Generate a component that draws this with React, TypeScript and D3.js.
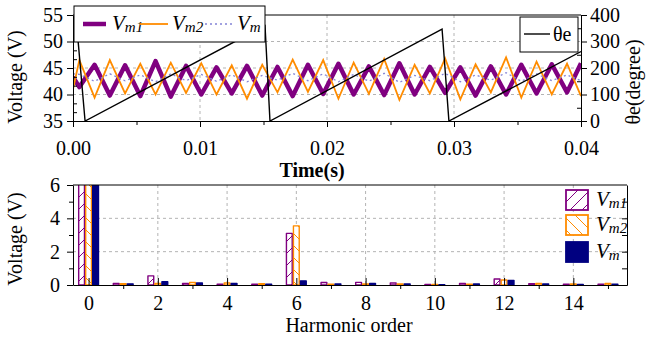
import { useEffect, useRef } from 'react'
import * as d3 from 'd3'

// ---- top panel: voltages and rotor angle vs time ----
const vTimes = [0, 0.0005, 0.0017, 0.0029, 0.0041, 0.0053, 0.0065, 0.0077, 0.0089, 0.0101, 0.0113, 0.0125,
  0.0137, 0.0149, 0.0161, 0.0173, 0.0185, 0.0197, 0.0209, 0.0221, 0.0233, 0.0245, 0.0257, 0.0269, 0.0281,
  0.0293, 0.0305, 0.0317, 0.0329, 0.0341, 0.0353, 0.0365, 0.0377, 0.0389, 0.04]
const vm1 = [43.3, 41.4, 45.6, 39.8, 45.5, 39.7, 46.3, 39.6, 45.4, 40.0, 45.1, 40.2, 45.4, 39.8, 45.2, 39.7,
  45.6, 40.1, 45.8, 40.0, 45.3, 39.9, 45.9, 40.0, 45.2, 40.3, 45.1, 39.8, 45.3, 40.0, 45.6, 40.2, 45.7, 40.4, 45.9]
const vm2 = [41.0, 46.5, 39.4, 46.5, 40.2, 45.8, 40.0, 46.0, 40.3, 45.9, 40.0, 45.5, 39.2, 45.6, 40.4, 46.6,
  40.5, 46.5, 39.2, 46.0, 40.1, 46.7, 39.0, 45.6, 40.2, 46.8, 39.1, 45.7, 40.4, 47.0, 39.4, 46.2, 40.0, 45.8, 39.7]
const vm = [43.9, 43.8, 42.5, 43.9, 42.6, 43.7, 42.4, 43.9, 42.6, 43.8, 42.5, 43.7, 42.4, 43.6, 42.7, 44.0,
  42.6, 43.9, 42.4, 43.8, 42.5, 44.0, 42.3, 43.6, 42.6, 44.0, 42.4, 43.7, 42.7, 44.1, 42.5, 43.9, 42.6, 43.7, 42.6]
const thetaTimes = [0, 0.0003, 0.00095, 0.01512, 0.01551, 0.02906, 0.0296, 0.04]
const thetaDeg = [352, 358, 0, 360, 0, 347, 0, 262]

const timeTicks = [0, 0.01, 0.02, 0.03, 0.04]
const timeMinor = [0.005, 0.015, 0.025, 0.035]
const voltTicks = [35, 40, 45, 50, 55]
const voltMinor = [36.667, 38.333, 41.667, 43.333, 46.667, 48.333, 51.667, 53.333]
const degTicks = [0, 100, 200, 300, 400]
const degMinor = [50, 150, 250, 350]

// ---- bottom panel: harmonic spectrum ----
const harmonics = [0, 1, 2, 3, 4, 5, 6, 7, 8, 9, 10, 11, 12, 13, 14, 15]
const hVm1 = [43, 0.1, 0.55, 0.1, 0.05, 0.05, 3.1, 0.15, 0.16, 0.12, 0.03, 0.1, 0.36, 0.08, 0.05, 0.05]
const hVm2 = [43, 0.08, 0.1, 0.15, 0.12, 0.08, 3.55, 0.05, 0.06, 0.06, 0.03, 0.05, 0.3, 0.1, 0.06, 0.1]
const hVm = [43, 0.07, 0.2, 0.12, 0.1, 0.05, 0.25, 0.06, 0.1, 0.06, 0.02, 0.06, 0.28, 0.06, 0.04, 0.05]
const harmTicks = [0, 2, 4, 6, 8, 10, 12, 14]
const harmMinor = [1, 3, 5, 7, 9, 11, 13, 15]
const specTicks = [0, 2, 4, 6]

const PURPLE = '#800080'
const ORANGE = '#ff8c00'
const NAVY = '#000080'
const VMCOL = '#8484d6'
const GRID = '#b4b4b4'
const FONT = "'Liberation Serif', 'Times New Roman', serif"

export default function App() {
  const svgRef = useRef<SVGSVGElement>(null)

  useEffect(() => {
    if (!svgRef.current) return
    const svg = d3.select(svgRef.current)
    svg.selectAll('*').remove()

    const defs = svg.append('defs')
    const hatch = (id: string, color: string, up: boolean) => {
      const s = 12
      const p = defs.append('pattern').attr('id', id)
        .attr('patternUnits', 'userSpaceOnUse').attr('width', s).attr('height', s)
      p.append('rect').attr('width', s).attr('height', s).attr('fill', '#fff')
      const d = up
        ? `M0,${s} L${s},0 M-3,3 L3,-3 M${s - 3},${s + 3} L${s + 3},${s - 3}`
        : `M0,0 L${s},${s} M-3,${s - 3} L3,${s + 3} M${s - 3},-3 L${s + 3},3`
      p.append('path').attr('d', d).attr('stroke', color).attr('stroke-width', 1)
    }
    hatch('hatchVm1', PURPLE, true)
    hatch('hatchVm2', ORANGE, false)

    // ================= top panel =================
    const T = { l: 73, r: 581, t: 15, b: 121 }
    const xT = d3.scaleLinear().domain([0, 0.04]).range([T.l, T.r])
    const yL = d3.scaleLinear().domain([35, 55]).range([T.b, T.t])
    const yR = d3.scaleLinear().domain([0, 400]).range([T.b, T.t])

    defs.append('clipPath').attr('id', 'clipTop')
      .append('rect').attr('x', T.l).attr('y', T.t).attr('width', T.r - T.l).attr('height', T.b - T.t)

    const top = svg.append('g')

    // grid
    top.append('g').selectAll('line').data([40, 45, 50]).join('line')
      .attr('x1', T.l).attr('x2', T.r).attr('y1', d => yL(d)).attr('y2', d => yL(d))
      .attr('stroke', GRID).attr('stroke-dasharray', '3,3')
    top.append('g').selectAll('line').data([0.01, 0.02, 0.03]).join('line')
      .attr('y1', T.t).attr('y2', T.b).attr('x1', d => xT(d)).attr('x2', d => xT(d))
      .attr('stroke', GRID).attr('stroke-dasharray', '3,3')

    const data = top.append('g').attr('clip-path', 'url(#clipTop)')
    const vLine = (vals: number[]) =>
      d3.line<number>().x((_, i) => xT(vTimes[i])).y(d => yL(d))(vals)

    data.append('path').attr('d', vLine(vm1))
      .attr('fill', 'none').attr('stroke', PURPLE).attr('stroke-width', 4.5).attr('stroke-linejoin', 'round')
    data.append('path').attr('d', vLine(vm2))
      .attr('fill', 'none').attr('stroke', ORANGE).attr('stroke-width', 1.8)
    data.append('path').attr('d', vLine(vm))
      .attr('fill', 'none').attr('stroke', VMCOL).attr('stroke-width', 1.3).attr('stroke-dasharray', '2,3')
    data.append('path')
      .attr('d', d3.line<number>().x((_, i) => xT(thetaTimes[i])).y(d => yR(d))(thetaDeg))
      .attr('fill', 'none').attr('stroke', '#000').attr('stroke-width', 1.4)

    // frame
    top.append('line').attr('x1', T.l).attr('x2', T.r).attr('y1', T.t).attr('y2', T.t).attr('stroke', '#000')

    const styleAxis = (g: d3.Selection<SVGGElement, unknown, null, undefined>, size = 20) => {
      g.attr('font-family', null).attr('font-size', null)
      g.selectAll('text').style('font-family', FONT).style('font-size', `${size}px`)
      g.selectAll('line').attr('stroke', '#000')
      g.selectAll('.domain').attr('stroke', '#000')
    }

    const ax1 = top.append('g').attr('transform', `translate(0,${T.b})`)
      .call(d3.axisBottom(xT).tickValues(timeTicks).tickSize(6).tickSizeOuter(0).tickPadding(14)
        .tickFormat(d => d3.format('.2f')(d as number)))
    styleAxis(ax1)
    const ax1m = top.append('g').attr('transform', `translate(0,${T.b})`)
      .call(d3.axisBottom(xT).tickValues(timeMinor).tickSize(4).tickFormat(() => ''))
    ax1m.select('.domain').remove()
    styleAxis(ax1m)

    const ax2 = top.append('g').attr('transform', `translate(${T.l},0)`)
      .call(d3.axisLeft(yL).tickValues(voltTicks).tickSize(6).tickSizeOuter(0).tickPadding(4)
        .tickFormat(d => d3.format('d')(d as number)))
    styleAxis(ax2)
    const ax2m = top.append('g').attr('transform', `translate(${T.l},0)`)
      .call(d3.axisLeft(yL).tickValues(voltMinor).tickSize(-4).tickFormat(() => ''))
    ax2m.select('.domain').remove()
    styleAxis(ax2m)

    const ax3 = top.append('g').attr('transform', `translate(${T.r},0)`)
      .call(d3.axisRight(yR).tickValues(degTicks).tickSize(6).tickSizeOuter(0).tickPadding(3)
        .tickFormat(d => d3.format('d')(d as number)))
    styleAxis(ax3)
    const ax3m = top.append('g').attr('transform', `translate(${T.r},0)`)
      .call(d3.axisRight(yR).tickValues(degMinor).tickSize(-4).tickFormat(() => ''))
    ax3m.select('.domain').remove()
    styleAxis(ax3m)

    const label = (g: d3.Selection<SVGGElement, unknown, null, undefined>) =>
      g.append('text').style('font-family', FONT).style('font-size', '20px')

    label(top).attr('transform', 'translate(22,77) rotate(-90)')
      .attr('text-anchor', 'middle').text('Voltage (V)')
    label(top).attr('transform', 'translate(640,82) rotate(-90)')
      .attr('text-anchor', 'middle').text('θe(degree)')
    label(top).attr('x', 312).attr('y', 177).attr('text-anchor', 'middle')
      .attr('font-weight', 'bold').text('Time(s)')

    // legends
    const subLabel = (g: d3.Selection<SVGGElement, unknown, null, undefined>, x: number, y: number, sub: string, size: number) => {
      const t = g.append('text').attr('x', x).attr('y', y)
        .style('font-family', FONT).style('font-style', 'italic').style('font-size', `${size}px`)
      t.append('tspan').text('V')
      t.append('tspan').style('font-size', `${Math.round(size * 0.7)}px`).attr('dy', 2).text(sub)
    }
    const lg = top.append('g')
    lg.append('rect').attr('x', 74).attr('y', 6).attr('width', 191).attr('height', 36)
      .attr('fill', '#fff').attr('stroke', '#000')
    lg.append('line').attr('x1', 83).attr('x2', 106).attr('y1', 24).attr('y2', 24)
      .attr('stroke', PURPLE).attr('stroke-width', 4.5)
    subLabel(lg, 112, 30, 'm1', 21)
    lg.append('line').attr('x1', 140).attr('x2', 168).attr('y1', 24).attr('y2', 24)
      .attr('stroke', ORANGE).attr('stroke-width', 1.8)
    subLabel(lg, 172, 30, 'm2', 21)
    lg.append('line').attr('x1', 205).attr('x2', 233).attr('y1', 24).attr('y2', 24)
      .attr('stroke', VMCOL).attr('stroke-width', 1.3).attr('stroke-dasharray', '2,3')
    subLabel(lg, 237, 30, 'm', 21)

    const lg2 = top.append('g')
    lg2.append('rect').attr('x', 520).attr('y', 17).attr('width', 58).attr('height', 35)
      .attr('fill', '#fff').attr('stroke', '#000')
    lg2.append('line').attr('x1', 524).attr('x2', 550).attr('y1', 34).attr('y2', 34)
      .attr('stroke', '#000').attr('stroke-width', 1.4)
    label(lg2).attr('x', 553).attr('y', 41).text('θe')

    // ================= bottom panel =================
    const B = { l: 73, r: 627, t: 185, b: 285 }
    const xB = d3.scaleLinear().domain([-0.45, 15.55]).range([B.l, B.r])
    const yB = d3.scaleLinear().domain([0, 6]).range([B.b, B.t])
    const bw = 7

    defs.append('clipPath').attr('id', 'clipBot')
      .append('rect').attr('x', B.l).attr('y', B.t).attr('width', B.r - B.l).attr('height', B.b - B.t)

    const bot = svg.append('g')
    bot.append('g').selectAll('line').data([2, 4]).join('line')
      .attr('x1', B.l).attr('x2', B.r).attr('y1', d => yB(d)).attr('y2', d => yB(d))
      .attr('stroke', GRID).attr('stroke-dasharray', '3,3')
    bot.append('g').selectAll('line').data(harmTicks).join('line')
      .attr('y1', B.t).attr('y2', B.b).attr('x1', d => xB(d)).attr('x2', d => xB(d))
      .attr('stroke', GRID).attr('stroke-dasharray', '3,3')

    const bars = bot.append('g').attr('clip-path', 'url(#clipBot)')
    const series = [
      { vals: hVm1, off: -bw, fill: 'url(#hatchVm1)', stroke: PURPLE },
      { vals: hVm2, off: 0, fill: 'url(#hatchVm2)', stroke: ORANGE },
      { vals: hVm, off: bw, fill: NAVY, stroke: NAVY },
    ]
    series.forEach(s => {
      bars.append('g').selectAll('rect').data(harmonics).join('rect')
        .attr('x', d => xB(d) + s.off - bw / 2 + 0.6)
        .attr('width', bw - 1.2)
        .attr('y', d => yB(Math.min(s.vals[d], 7)))
        .attr('height', d => B.b - yB(Math.min(s.vals[d], 7)))
        .attr('fill', s.fill).attr('stroke', s.stroke).attr('stroke-width', 1.4)
        .attr('stroke-linejoin', 'round')
    })

    bot.append('line').attr('x1', B.l).attr('x2', B.r).attr('y1', B.t).attr('y2', B.t).attr('stroke', '#000')

    const bx = bot.append('g').attr('transform', `translate(0,${B.b})`)
      .call(d3.axisBottom(xB).tickValues(harmTicks).tickSize(-7).tickSizeOuter(0).tickPadding(11)
        .tickFormat(d => d3.format('d')(d as number)))
    styleAxis(bx)
    const bxm = bot.append('g').attr('transform', `translate(0,${B.b})`)
      .call(d3.axisBottom(xB).tickValues(harmMinor).tickSize(4).tickFormat(() => ''))
    bxm.select('.domain').remove()
    styleAxis(bxm)

    const by = bot.append('g').attr('transform', `translate(${B.l},0)`)
      .call(d3.axisLeft(yB).tickValues(specTicks).tickSize(6).tickSizeOuter(0).tickPadding(7)
        .tickFormat(d => d3.format('d')(d as number)))
    styleAxis(by)
    const bym = bot.append('g').attr('transform', `translate(${B.l},0)`)
      .call(d3.axisLeft(yB).tickValues([1, 3, 5]).tickSize(4).tickFormat(() => ''))
    bym.select('.domain').remove()
    styleAxis(bym)
    const byr = bot.append('g').attr('transform', `translate(${B.r},0)`)
      .call(d3.axisLeft(yB).tickValues([1, 2, 3, 4, 5]).tickSize(5).tickSizeOuter(0).tickFormat(() => ''))
    styleAxis(byr)

    label(bot).attr('transform', 'translate(22,239) rotate(-90)')
      .attr('text-anchor', 'middle').text('Voltage (V)')
    label(bot).attr('x', 349).attr('y', 332).attr('text-anchor', 'middle').text('Harmonic order')

    const bl = bot.append('g')
    const legendRows = [
      { fill: 'url(#hatchVm1)', stroke: PURPLE, sub: 'm1', y: 190 },
      { fill: 'url(#hatchVm2)', stroke: ORANGE, sub: 'm2', y: 215 },
      { fill: NAVY, stroke: NAVY, sub: 'm', y: 242 },
    ]
    legendRows.forEach(r => {
      bl.append('rect').attr('x', 566).attr('y', r.y).attr('width', 22).attr('height', 20)
        .attr('fill', r.fill).attr('stroke', r.stroke).attr('stroke-width', 1.8)
      subLabel(bl, 596, r.y + 16, r.sub, 21)
    })
  }, [])

  return (
    <svg
      ref={svgRef}
      width={646}
      height={341}
      style={{ position: 'absolute', left: 0, top: 0, background: '#fff' }}
    />
  )
}
